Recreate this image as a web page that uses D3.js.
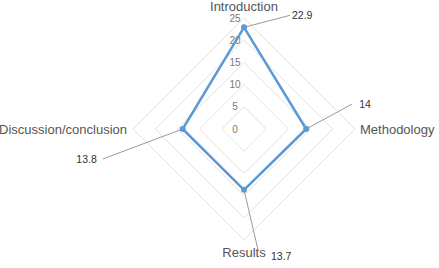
<!DOCTYPE html>
<html>
<head>
<meta charset="utf-8">
<script src="https://cdn.jsdelivr.net/npm/d3@7"></script>
<style>
  body { margin: 0; background: #fff; }
  svg { display: block; font-family: "Liberation Sans", Arial, sans-serif; }
</style>
</head>
<body>
<div id="chart"></div>
<script>
// data
const sections = ["Introduction", "Methodology", "Results", "Discussion/conclusion"];
const scores = [22.9, 14, 13.7, 13.8];
const tickValues = [0, 5, 10, 15, 20, 25];

// callout leader ends, relative to each point (layout only)
const callouts = [
    {dx: 46, dy: -12, tx: 48, ty: -12, anchor: "start"},
    {dx: 46, dy: -25, tx: 53, ty: -25, anchor: "start"},
    {dx: 14, dy: 60, tx: 27, ty: 66, anchor: "start"},
    {dx: -80, dy: 30, tx: -86, ty: 30, anchor: "end"}
];

const width = 439, height = 268;
const cx = 244, cy = 129;

const svg = d3.select("#chart").append("svg")
    .attr("width", width)
    .attr("height", height);

const g = svg.append("g")
    .attr("transform", "translate(" + cx + "," + cy + ")");

// radial scale
const r = d3.scaleLinear()
    .domain([0, 25])
    .range([0, 111]);

// 4 axes evenly, starting at top
const angleOf = (i) => -Math.PI / 2 + i * (2 * Math.PI / sections.length);

function pos(i, v) {
    let a = angleOf(i);
    return [Math.cos(a) * r(v), Math.sin(a) * r(v)];
}

// grid rings
tickValues.filter(t => t > 0).forEach(function (t) {
    g.append("polygon")
        .attr("points", sections.map((s, i) => pos(i, t).join(",")).join(" "))
        .attr("fill", "none")
        .attr("stroke", "#e2e2e2")
        .attr("stroke-width", 1);
});

// tick labels
g.selectAll(".tick-label")
    .data(tickValues)
    .enter().append("text")
    .attr("class", "tick-label")
    .attr("x", -9)
    .attr("y", d => -r(d))
    .attr("dy", "0.35em")
    .attr("text-anchor", "middle")
    .attr("font-size", "10px")
    .attr("fill", "#777")
    .text(d => d);

// axis labels
const labelPad = [12, 5, 12, 6];
sections.forEach(function (s, i) {
    let [x, y] = pos(i, 25);
    let a = angleOf(i);
    let t = g.append("text")
        .attr("x", x + Math.cos(a) * labelPad[i])
        .attr("y", y + Math.sin(a) * labelPad[i])
        .attr("dy", "0.35em")
        .attr("font-size", "13px")
        .attr("fill", "#555")
        .text(s);
    if (Math.abs(Math.cos(a)) < 0.01) t.attr("text-anchor", "middle");
    else t.attr("text-anchor", Math.cos(a) > 0 ? "start" : "end");
});

// data line
const line = d3.line().curve(d3.curveLinearClosed);
g.append("path")
    .datum(scores.map((v, i) => pos(i, v)))
    .attr("d", line)
    .attr("fill", "none")
    .attr("stroke", "#5b9bd5")
    .attr("stroke-width", 2.5)
    .attr("stroke-linejoin", "round");

// callouts
scores.forEach(function (v, i) {
    let [x, y] = pos(i, v);
    let c = callouts[i];
    g.append("line")
        .attr("x1", x).attr("y1", y)
        .attr("x2", x + c.dx).attr("y2", y + c.dy)
        .attr("stroke", "#999")
        .attr("stroke-width", 1);
    g.append("text")
        .attr("x", x + c.tx)
        .attr("y", y + c.ty)
        .attr("dy", "0.35em")
        .attr("text-anchor", c.anchor)
        .attr("font-size", "10.5px")
        .attr("fill", "#333")
        .text(v);
});

// points
g.selectAll(".pt")
    .data(scores)
    .enter().append("circle")
    .attr("class", "pt")
    .attr("cx", (d, i) => pos(i, d)[0])
    .attr("cy", (d, i) => pos(i, d)[1])
    .attr("r", 3)
    .attr("fill", "#5b9bd5");
</script>
</body>
</html>
